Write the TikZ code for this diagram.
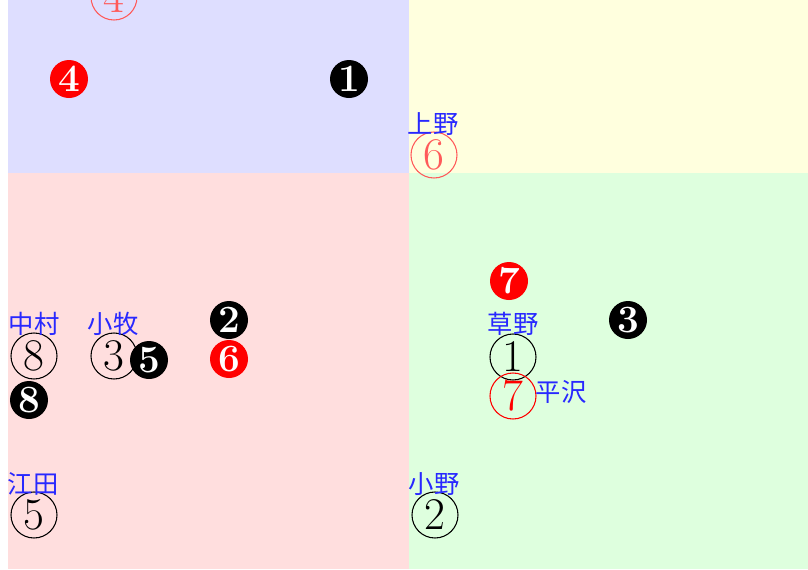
\documentclass[tikz,border=0pt]{standalone}
\usepackage{fontspec}
\newfontfamily\jpfont{Noto Sans CJK JP}
\definecolor{areablue}{RGB}{222,222,255}
\definecolor{areayellow}{RGB}{255,255,222}
\definecolor{areared}{RGB}{255,222,222}
\definecolor{areagreen}{RGB}{222,255,222}
\definecolor{namblue}{RGB}{40,40,255}
\definecolor{palered}{RGB}{255,90,90}

\begin{document}
\begin{tikzpicture}[x=0.75pt,y=-0.75pt,
  opencirc/.style={draw, circle, line width=0.8pt, inner sep=0pt, minimum size=34.5pt, font=\fontsize{34}{34}\selectfont},
  fillcirc/.style={circle, inner sep=0pt, minimum size=28.5pt, text=white, font=\fontsize{29}{29}\selectfont\bfseries},
  placename/.style={text=namblue, inner sep=0pt, font=\jpfont\fontsize{19}{19}\selectfont}]
\useasboundingbox (0,0) rectangle (808,569);

% Areas
\fill[areablue] (8,0) rectangle (409,173);
\fill[areayellow] (409,0) rectangle (808,173);
\fill[areared] (8,173) rectangle (409,569);
\fill[areagreen] (409,173) rectangle (808,569);

% Open circles
\node[opencirc, black] (o1) at (513,357) {1};
\node[opencirc, black] (o2) at (435,515) {2};
\node[opencirc, black] (o3) at (114,356) {3};
\node[opencirc, palered] (o4) at (114,-3) {4};
\node[opencirc, black] (o5) at (34,515) {5};
\node[opencirc, palered] (o6) at (434,155) {6};
\node[opencirc, red] (o7) at (513,396) {7};
\node[opencirc, black] (o8) at (34,356) {8};

% Filled circles
\node[fillcirc, fill=black] (f1) at (349,79) {1};
\node[fillcirc, fill=black] (f2) at (229,320) {2};
\node[fillcirc, fill=black] (f3) at (628,320) {3};
\node[fillcirc, fill=red] (f4) at (69,79) {4};
\node[fillcirc, fill=black] (f5) at (149,360) {5};
\node[fillcirc, fill=red] (f6) at (229,359) {6};
\node[fillcirc, fill=red] (f7) at (509,281) {7};
\node[fillcirc, fill=black] (f8) at (29,400) {8};

% Place names
\node[placename] (ueno) at (433,124) {上野};
\node[placename] (nakamura) at (34,324) {中村};
\node[placename] (komaki) at (113,324) {小牧};
\node[placename] (kusano) at (513,324) {草野};
\node[placename] (hirasawa) at (561,392) {平沢};
\node[placename] (eda) at (33,484) {江田};
\node[placename] (ono) at (434,484) {小野};
\end{tikzpicture}
\end{document}
